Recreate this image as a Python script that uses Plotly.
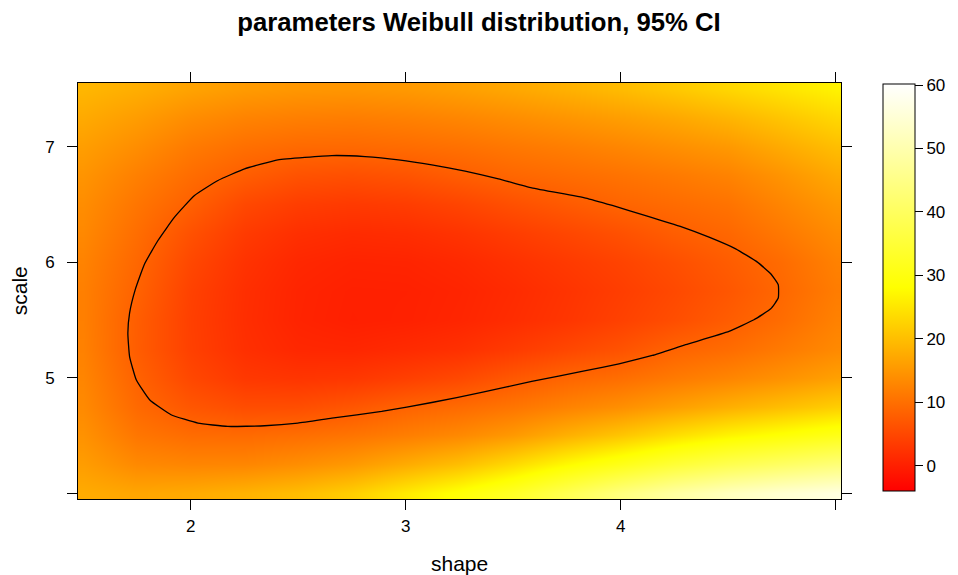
import plotly.graph_objects as go

# Grid of Weibull parameters (cell centres)
shape_grid = [1.5, 1.75, 2.0, 2.25, 2.5, 2.75, 3.0, 3.25, 3.5, 3.75, 4.0, 4.25, 4.5, 4.75, 5.0]
scale_grid = [4.0, 4.25, 4.5, 4.75, 5.0, 5.25, 5.5, 5.75, 6.0, 6.25, 6.5, 6.75, 7.0, 7.25, 7.5]

# Deviance surface, one row per scale value (rows follow scale_grid, columns follow shape_grid)
deviance = [
    [17.6, 16.9, 17.5, 18.5, 19.8, 22.0, 25.5, 29.0, 33.0, 38.5, 44.0, 48.5, 52.0, 54.5, 56.3],
    [15.8, 13.3, 12.8, 12.9, 13.9, 15.3, 17.6, 20.0, 23.5, 27.5, 31.1, 34.9, 38.0, 40.5, 43.0],
    [14.4, 10.9, 9.6, 9.4, 9.9, 10.7, 11.9, 13.3, 15.3, 18.2, 20.9, 24.0, 26.7, 28.8, 31.0],
    [13.4, 9.3, 6.9, 5.7, 5.8, 6.9, 8.5, 9.5, 10.8, 12.5, 14.1, 16.1, 18.1, 20.0, 22.0],
    [12.8, 8.4, 5.0, 3.1, 2.7, 3.0, 4.0, 5.2, 7.1, 8.8, 9.9, 11.4, 12.8, 14.4, 16.2],
    [12.3, 7.7, 4.1, 2.0, 1.0, 0.85, 1.4, 2.1, 3.4, 4.9, 6.4, 8.5, 9.6, 11.4, 13.3],
    [12.1, 7.8, 4.0, 1.8, 0.54, 0.0, 0.21, 0.77, 1.7, 2.8, 4.25, 5.8, 7.65, 9.7, 12.3],
    [12.1, 8.4, 4.25, 1.9, 0.6, 0.08, 0.14, 0.62, 1.46, 2.55, 3.8, 5.2, 6.9, 9.1, 11.7],
    [12.5, 9.0, 5.0, 2.4, 1.0, 0.5, 0.6, 1.2, 2.2, 3.3, 4.5, 5.95, 7.65, 9.6, 12.3],
    [13.2, 9.8, 6.2, 3.4, 2.0, 1.5, 1.75, 2.55, 3.7, 4.9, 6.2, 7.8, 9.0, 11.2, 13.6],
    [13.8, 10.8, 8.1, 5.1, 3.75, 3.3, 3.7, 4.7, 6.1, 7.4, 8.7, 9.55, 10.5, 12.8, 15.2],
    [14.7, 12.1, 9.7, 7.8, 6.4, 6.05, 6.6, 7.8, 8.95, 9.7, 10.5, 11.4, 12.5, 14.7, 17.3],
    [15.9, 13.8, 11.4, 10.0, 9.3, 9.2, 9.6, 10.2, 11.1, 11.9, 12.9, 14.0, 15.2, 17.5, 19.9],
    [17.4, 15.7, 13.7, 12.5, 12.0, 11.8, 12.2, 12.9, 13.8, 14.8, 15.9, 17.1, 18.7, 20.8, 23.1],
    [19.0, 17.9, 16.5, 15.5, 15.0, 14.9, 15.3, 16.1, 17.1, 18.3, 19.6, 21.2, 23.0, 24.8, 26.6],
]

# 95% confidence region boundary (shape, scale)
contour_shape = [1.741, 1.785, 1.847, 1.924, 2.017, 2.126, 2.250, 2.405, 2.656, 2.811, 2.966, 3.121,
                 3.276, 3.431, 3.586, 3.837, 3.961, 4.116, 4.287, 4.411, 4.535, 4.636, 4.698, 4.733,
                 4.733, 4.698, 4.620, 4.504, 4.302, 4.147, 3.992, 3.837, 3.586, 3.353, 3.121, 2.888,
                 2.656, 2.498, 2.343, 2.172, 2.033, 1.908, 1.808, 1.746, 1.715, 1.707, 1.715, 1.741]
contour_scale = [5.760, 5.985, 6.187, 6.389, 6.576, 6.706, 6.807, 6.885, 6.922, 6.913, 6.885, 6.842,
                 6.787, 6.721, 6.643, 6.554, 6.490, 6.403, 6.303, 6.216, 6.115, 6.000, 5.899, 5.804,
                 5.689, 5.596, 5.501, 5.400, 5.285, 5.192, 5.120, 5.060, 4.967, 4.872, 4.785, 4.708,
                 4.650, 4.607, 4.584, 4.578, 4.607, 4.679, 4.809, 4.982, 5.183, 5.386, 5.559, 5.760]

x_ticks = [2, 3, 4, 5]
x_tick_text = ["2", "3", "4", ""]
y_ticks = [4, 5, 6, 7]
y_tick_text = ["", "5", "6", "7"]
key_ticks = [0, 10, 20, 30, 40, 50, 60]

# colour key limits: data range padded by 7% on each side
flat = [v for row in deviance for v in row]
z_lo, z_hi = min(flat), max(flat)
z_pad = 0.07 * (z_hi - z_lo)

FONT = "Liberation Sans, Arial, Helvetica, sans-serif"

fig = go.Figure()

fig.add_trace(go.Heatmap(
    x=shape_grid,
    y=scale_grid,
    z=deviance,
    zmin=z_lo - z_pad,
    zmax=z_hi + z_pad,
    zsmooth="best",
    colorscale=[[0.0, "#FF0000"], [0.5, "#FFFF00"], [1.0, "#FFFFFF"]],
    hoverinfo="skip",
    colorbar=dict(
        x=1.055, xanchor="left", xpad=0,
        y=0.5095, yanchor="middle", ypad=0,
        len=407, lenmode="pixels",
        thickness=32, thicknessmode="pixels",
        outlinecolor="black", outlinewidth=1,
        ticks="outside", ticklen=8, tickwidth=1, tickcolor="black",
        tickvals=key_ticks,
        tickfont=dict(family=FONT, size=17, color="black"),
    ),
))

fig.add_trace(go.Scatter(
    x=contour_shape,
    y=contour_scale,
    mode="lines",
    line=dict(color="black", width=1.3, shape="spline", smoothing=0.4),
    hoverinfo="skip",
    showlegend=False,
))

axis_common = dict(
    showline=True, linecolor="black", linewidth=1, mirror="ticks",
    ticks="outside", ticklen=10, tickwidth=1, tickcolor="black",
    showgrid=False, zeroline=False,
    tickfont=dict(family=FONT, size=17, color="black"),
)

fig.update_layout(
    width=958, height=575, autosize=False,
    margin=dict(l=78, r=117, t=83, b=76),
    paper_bgcolor="white", plot_bgcolor="white",
    showlegend=False,
    title=dict(
        text="<b>parameters Weibull distribution, 95% CI</b>",
        x=0.5, xanchor="center", xref="container",
        y=1 - 22 / 575, yanchor="middle", yref="container",
        font=dict(family=FONT, size=25.7, color="black"),
    ),
    xaxis=dict(range=[1.475, 5.025], tickvals=x_ticks, ticktext=x_tick_text,
               ticklabelstandoff=2, **axis_common),
    yaxis=dict(range=[3.95, 7.55], tickvals=y_ticks, ticktext=y_tick_text,
               ticklabelstandoff=9, **axis_common),
    annotations=[
        dict(text="shape", xref="paper", yref="paper", x=0.5, y=-0.156,
             xanchor="center", yanchor="middle", showarrow=False,
             font=dict(family=FONT, size=21, color="black")),
        dict(text="scale", xref="paper", yref="paper", x=-0.077, y=0.5,
             xanchor="center", yanchor="middle", showarrow=False, textangle=-90,
             font=dict(family=FONT, size=21, color="black")),
    ],
)

fig.write_html("out.html")
